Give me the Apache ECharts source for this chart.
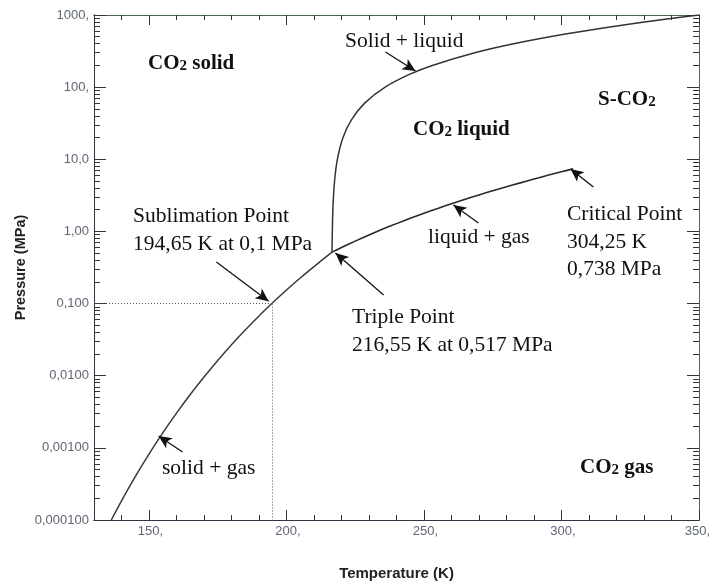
<!DOCTYPE html>
<html>
<head>
<meta charset="utf-8">
<script src="https://cdn.jsdelivr.net/npm/echarts@6/dist/echarts.min.js"></script>
<style>
html,body{margin:0;padding:0;background:#fff;}
#c{width:711px;height:583px;}
</style>
</head>
<body>
<div id="c"></div>
<script>
// ---- data ----
const sublimationT = [136.3, 140, 145, 150, 155, 160, 165, 170, 175, 180, 185, 190, 194.65, 200, 205, 210, 216.55];
const sublimationP = [1.0e-4, 1.84e-4, 3.99e-4, 8.2e-4, 1.61e-3, 3.03e-3, 5.5e-3, 9.6e-3, 0.0163, 0.0269, 0.043, 0.0673, 0.1, 0.154, 0.226, 0.325, 0.517];

const vaporT = [216.55, 220, 225, 230, 235, 240, 245, 250, 255, 260, 265, 270, 275, 280, 285, 290, 295, 300, 304.25];
const vaporP = [0.517, 0.599, 0.734, 0.893, 1.077, 1.283, 1.52, 1.785, 2.085, 2.419, 2.79, 3.203, 3.66, 4.161, 4.71, 5.318, 5.99, 6.713, 7.38];

const meltT = [216.55, 216.86, 217.48, 218.5, 220.55, 223.55, 228.41, 235.87, 244.68, 253.02, 268.48, 282.63, 301.96, 319.49, 335.58, 350];
const meltP = [0.517, 2, 5, 10, 20, 35, 60, 100, 150, 200, 300, 400, 550, 700, 850, 1000];

const xLabelValues = [150, 200, 250, 300, 350];
const xLabelTexts = ['150,', '200,', '250,', '300,', '350,'];
const xMinorTicks = [140, 160, 170, 180, 190, 210, 220, 230, 240, 260, 270, 280, 290, 310, 320, 330, 340];

const yLabelValues = [0.0001, 0.001, 0.01, 0.1, 1, 10, 100, 1000];
const yLabelTexts = ['0,000100', '0,00100', '0,0100', '0,100', '1,00', '10,0', '100,', '1000,'];
const yMinorTicks = [];
for (let e = -4; e < 3; e++) { for (let m = 2; m <= 9; m++) yMinorTicks.push(+(m * Math.pow(10, e)).toPrecision(3)); }

const sublimationPoint = [194.65, 0.1];
const xMin = 130, xMax = 350, yMin = 0.0001, yMax = 1000;

// arrows: [from, to] in data coordinates
const arrows = [
  [[236.0, 307], [246.9, 167]],
  [[174.5, 0.377], [193.5, 0.108]],
  [[235.3, 0.1315], [217.8, 0.502]],
  [[269.8, 1.31], [260.7, 2.32]],
  [[311.6, 4.13], [303.3, 7.33]],
  [[162.2, 8.75e-4], [153.5, 1.46e-3]]
];

// ---- chart ----
const zip = (a, b) => a.map((v, i) => [v, b[i]]);
const labelFont = 'Liberation Sans';
const serif = '"Liberation Serif", "Times New Roman", serif';
const axisColor = '#2f3542';
const frameColor = '#4d684d';

function xAx(pos, tickVals, len, showLabel, lineColor) {
  return {
    type: 'value', min: xMin, max: xMax, position: pos,
    axisLine: { show: true, lineStyle: { color: lineColor, width: 1 } },
    axisTick: { show: true, inside: true, length: len, customValues: tickVals, lineStyle: { color: '#333' } },
    axisLabel: showLabel ? {
      show: true, customValues: xLabelValues, margin: 5, color: '#5f6573',
      fontFamily: labelFont, fontSize: 13, padding: [0, 0, 0, 3],
      formatter: v => {
        const s = xLabelTexts[xLabelValues.indexOf(v)] || '';
        return v === xMax ? '{r|' + s + '}' : s;
      },
      rich: { r: { fontFamily: labelFont, fontSize: 13, color: '#5f6573', padding: [0, 6, 0, 0] } }
    } : { show: false },
    splitLine: { show: false },
    name: showLabel ? 'Temperature (K)' : '', nameLocation: 'middle', nameGap: 46, nameMoveOverlap: false,
    nameTextStyle: { fontFamily: labelFont, fontWeight: 'bold', fontSize: 15, color: '#222' }
  };
}
function yAx(pos, tickVals, len, showLabel, lineColor) {
  return {
    type: 'log', logBase: 10, min: yMin, max: yMax, position: pos,
    axisLine: { show: true, lineStyle: { color: lineColor, width: 1 } },
    axisTick: { show: true, inside: true, length: len, customValues: tickVals, lineStyle: { color: '#333' } },
    axisLabel: showLabel ? {
      show: true, customValues: yLabelValues, margin: 5, color: '#5f6573',
      fontFamily: labelFont, fontSize: 13,
      formatter: v => yLabelTexts[Math.round(Math.log10(v)) + 4] || ''
    } : { show: false },
    splitLine: { show: false },
    name: showLabel ? 'Pressure (MPa)' : '', nameLocation: 'middle', nameGap: 66, nameMoveOverlap: false,
    nameTextStyle: { fontFamily: labelFont, fontWeight: 'bold', fontSize: 14.5, color: '#222' }
  };
}

const FS = '21.5px ';
function txt(x, y, text) {
  return {
    type: 'text', x: x, y: y, silent: true,
    style: { text: text, font: FS + serif, fill: '#111', verticalAlign: 'middle' }
  };
}
function co2(x, y, pre, rest) {
  return {
    type: 'text', x: x, y: y, silent: true,
    style: {
      text: '{a|' + pre + 'CO}{b|2}' + (rest ? '{a|' + rest + '}' : ''), verticalAlign: 'middle',
      rich: {
        a: { font: 'bold 21px ' + serif, fill: '#111' },
        b: { font: 'bold 15px ' + serif, fill: '#111', padding: [5, 0, 0, 0] }
      }
    }
  };
}
function multi(x, yTop, lines) {
  return {
    type: 'text', x: x, y: yTop, silent: true,
    style: { text: lines.join('\n'), font: FS + serif, fill: '#111', verticalAlign: 'top', lineHeight: 27.5 }
  };
}

const chart = echarts.init(document.getElementById('c'), null, { renderer: 'canvas' });
chart.setOption({
  animation: false,
  backgroundColor: '#fff',
  grid: { left: 94, right: 12, top: 15, bottom: 63, containLabel: false, outerBoundsMode: 'none' },
  xAxis: [
    xAx('bottom', xMinorTicks, 5, true, axisColor),
    xAx('bottom', xLabelValues, 10, false, axisColor),
    xAx('top', xMinorTicks, 5, false, frameColor),
    xAx('top', xLabelValues, 10, false, frameColor)
  ],
  yAxis: [
    yAx('left', yMinorTicks, 6, true, axisColor),
    yAx('left', yLabelValues, 12, false, axisColor),
    yAx('right', yMinorTicks, 6, false, frameColor),
    yAx('right', yLabelValues, 12, false, frameColor)
  ],
  series: [
    {
      type: 'line', name: 'sublimation', data: zip(sublimationT, sublimationP), showSymbol: false, smooth: 0.2,
      lineStyle: { color: '#3a3a3a', width: 1.5 }, silent: true,
      markLine: {
        silent: true, symbol: ['none', 'none'], label: { show: false },
        lineStyle: { color: '#555', type: [1, 2], width: 1 },
        data: [
          [{ coord: [xMin, sublimationPoint[1]] }, { coord: sublimationPoint }],
          [{ coord: sublimationPoint }, { coord: [sublimationPoint[0], yMin] }]
        ]
      }
    },
    {
      type: 'line', name: 'vapor', data: zip(vaporT, vaporP), showSymbol: false, smooth: 0.2,
      lineStyle: { color: '#2a2a2a', width: 1.6 }, silent: true,
      markLine: {
        silent: true, symbol: ['none', 'arrow'], symbolSize: [9, 13], label: { show: false },
        lineStyle: { color: '#111', type: 'solid', width: 1.3 },
        data: arrows.map(a => [{ coord: a[0] }, { coord: a[1] }])
      }
    },
    {
      type: 'line', name: 'melting', data: zip(meltT, meltP), showSymbol: false, smooth: 0.3,
      lineStyle: { color: '#333', width: 1.5 }, silent: true
    }
  ],
  graphic: [
    co2(148, 64, '', ' solid'),
    txt(345, 41, 'Solid + liquid'),
    co2(598, 100, 'S-', ''),
    co2(413, 130, '', ' liquid'),
    multi(133, 203, ['Sublimation Point', '194,65 K at 0,1 MPa']),
    txt(428, 237, 'liquid + gas'),
    multi(567, 201, ['Critical Point', '304,25 K', '0,738 MPa']),
    multi(352, 304, ['Triple Point', '216,55 K at 0,517 MPa']),
    txt(162, 468, 'solid + gas'),
    co2(580, 468, '', ' gas')
  ]
});
</script>
</body>
</html>
